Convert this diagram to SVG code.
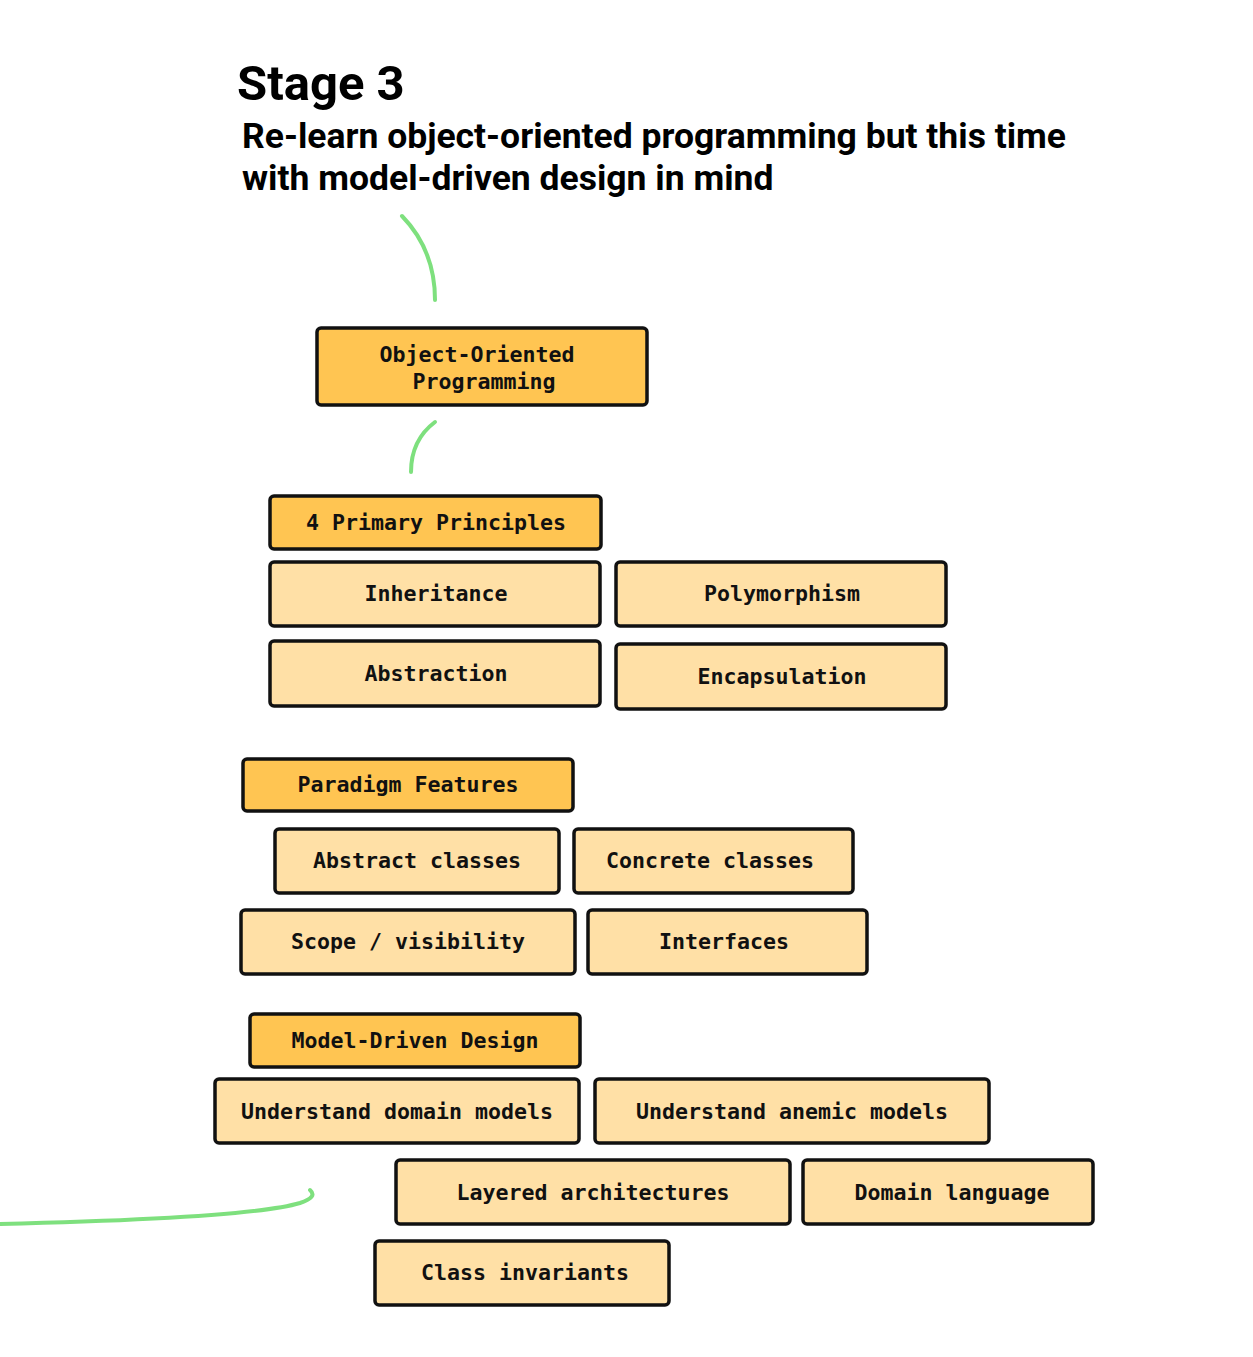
<svg xmlns="http://www.w3.org/2000/svg" width="1253" height="1357" viewBox="0 0 1253 1357">
<style>
.h{fill:#FFC552;stroke:#111;stroke-width:3.5}
.l{fill:#FFE0A6;stroke:#111;stroke-width:3.5}
.t{font-family:"DejaVu Sans Mono","Liberation Mono",monospace;font-weight:bold;font-size:21.6px;fill:#111;text-anchor:middle;dominant-baseline:central}
.c{fill:none;stroke:#7EE07E;stroke-width:4;stroke-linecap:round}
.ti{font-family:Roboto,"Liberation Sans",sans-serif;font-weight:bold;fill:#000}
</style>
<rect width="1253" height="1357" fill="#fff"/>
<text class="ti" x="237" y="100" font-size="49">Stage 3</text>
<text class="ti" x="242" y="148" font-size="35.5">Re-learn object-oriented programming but this time</text>
<text class="ti" x="242" y="190" font-size="35.5">with model-driven design in mind</text>
<g id="connectors">
<path class="c" d="M402 216 Q435 250 435 300"/>
<path class="c" d="M435 422 Q411 440 411 472"/>
<path class="c" d="M0 1224 Q250 1218 300 1203 Q318 1197 310 1190"/>
</g>
<g id="oop"><rect class="h" x="317" y="328" width="330" height="77" rx="4"/><text class="t" x="477" y="354">Object-Oriented</text><text class="t" x="484" y="381">Programming</text></g>
<g id="principles"><rect class="h" x="270" y="496" width="331" height="53" rx="4"/><text class="t" x="436" y="522">4 Primary Principles</text></g>
<g id="inheritance"><rect class="l" x="270" y="562" width="330" height="64" rx="4"/><text class="t" x="436" y="593">Inheritance</text></g>
<g id="polymorphism"><rect class="l" x="616" y="562" width="330" height="64" rx="4"/><text class="t" x="782" y="593">Polymorphism</text></g>
<g id="abstraction"><rect class="l" x="270" y="641" width="330" height="65" rx="4"/><text class="t" x="436" y="673">Abstraction</text></g>
<g id="encapsulation"><rect class="l" x="616" y="644" width="330" height="65" rx="4"/><text class="t" x="782" y="676">Encapsulation</text></g>
<g id="paradigm"><rect class="h" x="243" y="759" width="330" height="52" rx="4"/><text class="t" x="408" y="784">Paradigm Features</text></g>
<g id="abstract-classes"><rect class="l" x="275" y="829" width="284" height="64" rx="4"/><text class="t" x="417" y="860">Abstract classes</text></g>
<g id="concrete-classes"><rect class="l" x="574" y="829" width="279" height="64" rx="4"/><text class="t" x="710" y="860">Concrete classes</text></g>
<g id="scope"><rect class="l" x="241" y="910" width="334" height="64" rx="4"/><text class="t" x="408" y="941">Scope / visibility</text></g>
<g id="interfaces"><rect class="l" x="588" y="910" width="279" height="64" rx="4"/><text class="t" x="724" y="941">Interfaces</text></g>
<g id="mdd"><rect class="h" x="250" y="1014" width="330" height="53" rx="4"/><text class="t" x="415" y="1040">Model-Driven Design</text></g>
<g id="domain-models"><rect class="l" x="215" y="1079" width="364" height="64" rx="4"/><text class="t" x="397" y="1111">Understand domain models</text></g>
<g id="anemic-models"><rect class="l" x="595" y="1079" width="394" height="64" rx="4"/><text class="t" x="792" y="1111">Understand anemic models</text></g>
<g id="layered"><rect class="l" x="396" y="1160" width="394" height="64" rx="4"/><text class="t" x="593" y="1192">Layered architectures</text></g>
<g id="domain-language"><rect class="l" x="803" y="1160" width="290" height="64" rx="4"/><text class="t" x="952" y="1192">Domain language</text></g>
<g id="invariants"><rect class="l" x="375" y="1241" width="294" height="64" rx="4"/><text class="t" x="525" y="1272">Class invariants</text></g>
</svg>
